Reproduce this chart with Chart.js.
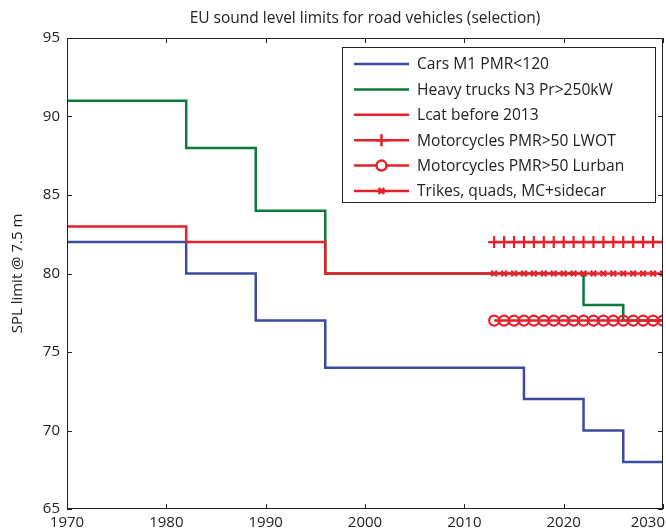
<!DOCTYPE html>
<html>
<head>
<meta charset="utf-8">
<title>EU sound level limits</title>
<script src="https://cdn.jsdelivr.net/npm/chart.js@4.4.1/dist/chart.umd.min.js"></script>
<style>
    html, body { margin: 0; padding: 0; background: #fff; }
</style>
</head>
<body>
<canvas id="chart" width="666" height="529"></canvas>
<script>
// valores (años en que cambia el limite, y el limite en dB)
const carsYears = [1970, 1982, 1989, 1996, 2016, 2022, 2026, 2030];
const carsLimits = [82, 80, 77, 74, 72, 70, 68, 68];

const trucksYears = [1970, 1982, 1989, 1996, 2022, 2026, 2030];
const trucksLimits = [91, 88, 84, 80, 78, 77, 77];

const lcatYears = [1970, 1982, 1996, 2013];
const lcatLimits = [83, 82, 80, 80];

// motos: un marcador por año
const mcYears = [2013, 2014, 2015, 2016, 2017, 2018, 2019, 2020, 2021, 2022, 2023, 2024, 2025, 2026, 2027, 2028, 2029, 2030];
const lwotLimits = [82, 82, 82, 82, 82, 82, 82, 82, 82, 82, 82, 82, 82, 82, 82, 82, 82, 82];
const lurbanLimits = [77, 77, 77, 77, 77, 77, 77, 77, 77, 77, 77, 77, 77, 77, 77, 77, 77, 77];
const trikesLimits = [80, 80, 80, 80, 80, 80, 80, 80, 80, 80, 80, 80, 80, 80, 80, 80, 80, 80];

const xTicks = [1970, 1980, 1990, 2000, 2010, 2020, 2030];
const yTicks = [65, 70, 75, 80, 85, 90, 95];

const BLUE = "#3c4b9f";
const GREEN = "#0b7a3b";
const RED = "#e6202a";
const INK = "#222";
const FONT = "'Open Sans', sans-serif";

Chart.defaults.font.family = FONT;
Chart.defaults.font.size = 15;
Chart.defaults.color = INK;

function pair(xs, ys) {
    return xs.map((x, i) => ({ x: x, y: ys[i] }));
}

// caja del grafico + ticks hacia dentro (estilo matlab) + etiquetas del eje x
const frame = {
    id: "frame",
    afterDraw(chart) {
        const ctx = chart.ctx;
        const a = chart.chartArea;
        const xs = chart.scales.x;
        const ys = chart.scales.y;
        const len = 5;
        ctx.save();
        ctx.strokeStyle = INK;
        ctx.lineWidth = 1;
        ctx.strokeRect(a.left + 0.5, a.top + 0.5, a.right - a.left - 1, a.bottom - a.top - 1);
        ctx.beginPath();
        xTicks.forEach((v) => {
            const px = Math.round(xs.getPixelForValue(v)) + 0.5;
            ctx.moveTo(px, a.bottom);
            ctx.lineTo(px, a.bottom - len);
            ctx.moveTo(px, a.top);
            ctx.lineTo(px, a.top + len);
        });
        yTicks.forEach((v) => {
            const py = Math.round(ys.getPixelForValue(v)) + 0.5;
            ctx.moveTo(a.left, py);
            ctx.lineTo(a.left + len, py);
            ctx.moveTo(a.right, py);
            ctx.lineTo(a.right - len, py);
        });
        ctx.stroke();

        // etiquetas del eje x, la ultima se mete dentro del canvas
        ctx.fillStyle = INK;
        ctx.font = "15px " + FONT;
        ctx.textBaseline = "alphabetic";
        ctx.textAlign = "left";
        xTicks.forEach((v) => {
            const label = String(v);
            const w = ctx.measureText(label).width;
            const px = xs.getPixelForValue(v);
            const left = Math.min(px - w / 2, chart.width - w - 1);
            ctx.fillText(label, left, a.bottom + 18);
        });
        ctx.restore();
    },
};

// leyenda dibujada a mano para poner el marcador en medio de la linea
const boxLegend = {
    id: "boxLegend",
    afterDraw(chart) {
        const ctx = chart.ctx;
        const left = 342, top = 47, w = 313, h = 155;
        const rowH = 25.4;
        ctx.save();
        ctx.fillStyle = "#fff";
        ctx.fillRect(left, top, w, h);
        ctx.strokeStyle = INK;
        ctx.lineWidth = 1;
        ctx.strokeRect(left + 0.5, top + 0.5, w, h);
        ctx.font = "15.6px " + FONT;
        ctx.textBaseline = "middle";
        chart.data.datasets.forEach((ds, i) => {
            const y = top + 17 + i * rowH;
            ctx.strokeStyle = ds.borderColor;
            ctx.lineWidth = ds.borderWidth;
            ctx.beginPath();
            ctx.moveTo(left + 12, y);
            ctx.lineTo(left + 67, y);
            ctx.stroke();
            if (ds.pointRadius > 0) {
                ctx.fillStyle = "#fff";
                Chart.helpers.drawPoint(ctx, {
                    pointStyle: ds.pointStyle,
                    radius: ds.pointRadius,
                    borderWidth: ds.pointBorderWidth,
                    rotation: 0,
                }, left + 39.5, y);
            }
            ctx.fillStyle = INK;
            ctx.fillText(ds.label, left + 75, y + 1);
        });
        ctx.restore();
    },
};

const stepLine = (label, data, color, order) => ({
    label: label,
    data: data,
    borderColor: color,
    backgroundColor: color,
    borderWidth: 2.5,
    stepped: true,
    pointRadius: 0,
    order: order,
});

const markerLine = (label, data, style, radius, order) => ({
    label: label,
    data: data,
    borderColor: RED,
    backgroundColor: RED,
    borderWidth: 2.5,
    pointStyle: style,
    pointRadius: radius,
    pointBorderWidth: 2.2,
    pointBorderColor: RED,
    pointBackgroundColor: "rgba(0,0,0,0)",
    pointHoverRadius: radius,
    order: order,
});

new Chart(document.getElementById("chart"), {
    type: "line",
    data: {
        datasets: [
            stepLine("Cars M1 PMR<120", pair(carsYears, carsLimits), BLUE, 6),
            stepLine("Heavy trucks N3 Pr>250kW", pair(trucksYears, trucksLimits), GREEN, 5),
            stepLine("Lcat before 2013", pair(lcatYears, lcatLimits), RED, 4),
            markerLine("Motorcycles PMR>50 LWOT", pair(mcYears, lwotLimits), "cross", 6, 3),
            markerLine("Motorcycles PMR>50 Lurban", pair(mcYears, lurbanLimits), "circle", 5, 2),
            markerLine("Trikes, quads, MC+sidecar", pair(mcYears, trikesLimits), "crossRot", 4, 1),
        ],
    },
    options: {
        responsive: false,
        animation: false,
        devicePixelRatio: 1,
        layout: { autoPadding: false, padding: { left: 0, right: 3, top: 0, bottom: 0 } },
        plugins: {
            legend: { display: false },
            tooltip: { enabled: false },
            title: {
                display: true,
                text: "EU sound level limits for road vehicles (selection)",
                fullSize: false,
                font: { size: 15.5, weight: "normal" },
                color: INK,
                padding: { top: 9, bottom: 10.4 },
            },
        },
        scales: {
            x: {
                type: "linear",
                min: 1970,
                max: 2030,
                grid: { display: false, drawTicks: false },
                border: { display: false },
                ticks: { display: false, stepSize: 10 },
                afterFit(scale) {
                    scale.height = 20;
                    scale.paddingLeft = 0;
                    scale.paddingRight = 0;
                },
            },
            y: {
                min: 65,
                max: 95,
                grid: { display: false, drawTicks: false },
                border: { display: false },
                ticks: { stepSize: 5, padding: 7, color: INK, font: { size: 15 } },
                title: {
                    display: true,
                    text: "SPL limit @ 7.5 m",
                    color: INK,
                    font: { size: 15 },
                    padding: { top: 9, bottom: 0 },
                },
                afterFit(scale) {
                    scale.width = 67;
                    scale.paddingTop = 0;
                    scale.paddingBottom = 0;
                },
            },
        },
    },
    plugins: [frame, boxLegend],
});
</script>
</body>
</html>
